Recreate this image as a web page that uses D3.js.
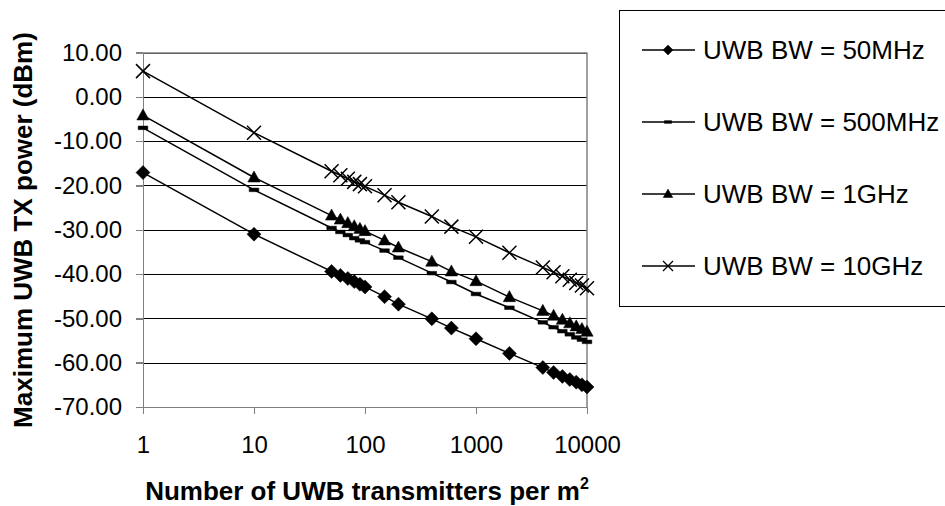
<!DOCTYPE html>
<html>
<head>
<meta charset="utf-8">
<script src="https://cdn.jsdelivr.net/npm/d3@7"></script>
<style>
  body { margin: 0; background: #fff; }
  svg { font-family: "Liberation Sans", Arial, sans-serif; }
  .grid line { stroke: #000; stroke-width: 1; shape-rendering: crispEdges; }
  .grid path { display: none; }
  .axis path, .axis line { stroke: #808080; stroke-width: 1.5; shape-rendering: crispEdges; }
  .axis text { font-size: 24px; fill: #000; }
  .series { fill: none; stroke: #000; stroke-width: 1.5; }
</style>
</head>
<body>
<script>
(function(){

  //number of transmitters per m2 (x values, log axis)
  var density = [1, 10, 50, 60, 70, 80, 90, 100, 150, 200, 400, 600, 1000, 2000, 4000, 5000, 6000, 7000, 8000, 9000, 10000];

  //max tx power (dBm), one array per bandwidth
  var bw50M  = [-17.1, -31.0, -39.4, -40.3, -41.0, -41.7, -42.3, -42.9, -45.1, -46.8, -50.1, -52.2, -54.6, -57.9, -61.1, -62.2, -63.1, -63.8, -64.4, -65.0, -65.5];
  var bw500M = [-7.0, -21.0, -29.6, -30.5, -31.2, -31.9, -32.4, -32.8, -34.7, -36.3, -39.8, -41.8, -44.5, -47.6, -50.9, -52.0, -52.9, -53.6, -54.3, -54.8, -55.3];
  var bw1G   = [-4.2, -18.2, -26.8, -27.7, -28.5, -29.2, -29.8, -30.3, -32.4, -34.0, -37.2, -39.4, -41.6, -45.2, -48.3, -49.4, -50.3, -51.1, -51.8, -52.4, -53.0];
  var bw10G  = [5.8, -8.1, -16.8, -17.7, -18.5, -19.2, -19.7, -20.2, -22.2, -23.8, -27.0, -29.3, -31.6, -35.2, -38.5, -39.6, -40.5, -41.3, -42.0, -42.6, -43.2];

  var seriesNames = ["UWB BW = 50MHz", "UWB BW = 500MHz", "UWB BW = 1GHz", "UWB BW = 10GHz"];
  var markerTypes = ["diamond", "dash", "triangle", "cross"];
  var xTicks = [1, 10, 100, 1000, 10000];
  var yTicks = [10, 0, -10, -20, -30, -40, -50, -60, -70];

  var allSeries = [bw50M, bw500M, bw1G, bw10G];

  var width = 945, height = 506;
  var plotLeft = 143, plotRight = 587, plotTop = 52.5, plotBottom = 407;

  var svg = d3.select("body")
    .append("svg")
    .attr("width", width)
    .attr("height", height);

  var x = d3.scaleLog()
    .domain([1, 10000])
    .range([plotLeft, plotRight]);

  var y = d3.scaleLinear()
    .domain([-70, 10])
    .range([plotBottom, plotTop]);

  //horizontal gridlines
  svg.append("g")
    .attr("class", "grid")
    .attr("transform", "translate(" + plotLeft + ",0)")
    .call(d3.axisLeft(y).tickValues(yTicks).tickSize(-(plotRight - plotLeft)).tickFormat(""));

  //plot frame (top and right edges)
  svg.append("path")
    .attr("d", "M" + plotLeft + "," + Math.round(plotTop) + "H" + plotRight + "V" + plotBottom)
    .attr("fill", "none")
    .attr("stroke", "#808080")
    .attr("stroke-width", 1.5);

  //y axis
  svg.append("g")
    .attr("class", "axis")
    .attr("transform", "translate(" + plotLeft + ",0)")
    .call(d3.axisLeft(y).tickValues(yTicks).tickSize(7).tickSizeOuter(0).tickPadding(14)
      .tickFormat(function(d){ return d.toFixed(2); }));

  //x axis
  svg.append("g")
    .attr("class", "axis")
    .attr("transform", "translate(0," + plotBottom + ")")
    .call(d3.axisBottom(x).tickValues(xTicks).tickSize(7).tickSizeOuter(0).tickPadding(22).tickFormat(d3.format("d")));

  //symbol paths
  function markerPath(type, s){
    if (type == "diamond") return "M0," + (-s) + "L" + s + ",0L0," + s + "L" + (-s) + ",0Z";
    if (type == "triangle") return "M0," + (-s) + "L" + (s * 0.95) + "," + (s * 0.7) + "L" + (-s * 0.95) + "," + (s * 0.7) + "Z";
    if (type == "dash") return "M" + (-s * 0.8) + "," + (-s * 0.3) + "H" + (s * 0.8) + "V" + (s * 0.3) + "H" + (-s * 0.8) + "Z";
    return "M" + (-s) + "," + (-s) + "L" + s + "," + s + "M" + s + "," + (-s) + "L" + (-s) + "," + s;
  }
  var markerSize = { diamond: 7, triangle: 6.5, dash: 6, cross: 7 };

  var line = d3.line()
    .x(function(d){ return x(d[0]); })
    .y(function(d){ return y(d[1]); });

  allSeries.forEach(function(vals, k){
    var pts = density.map(function(d, i){ return [d, vals[i]]; });
    var type = markerTypes[k];

    svg.append("path")
      .datum(pts)
      .attr("class", "series")
      .attr("d", line);

    svg.selectAll(".m" + k)
      .data(pts)
      .enter()
      .append("path")
      .attr("class", "m" + k)
      .attr("transform", function(d){ return "translate(" + x(d[0]) + "," + y(d[1]) + ")"; })
      .attr("d", markerPath(type, markerSize[type]))
      .attr("fill", type == "cross" ? "none" : "#000")
      .attr("stroke", "#000")
      .attr("stroke-width", type == "cross" ? 1.5 : 0.5);
  });

  //axis titles
  svg.append("text")
    .attr("transform", "translate(32,230) rotate(-90)")
    .attr("text-anchor", "middle")
    .style("font-size", "26px")
    .style("font-weight", "bold")
    .text("Maximum UWB TX power (dBm)");

  var xTitle = svg.append("text")
    .attr("x", 367)
    .attr("y", 500)
    .attr("text-anchor", "middle")
    .style("font-size", "26px")
    .style("font-weight", "bold");
  xTitle.append("tspan").text("Number of UWB transmitters per m");
  xTitle.append("tspan")
    .attr("dy", -11)
    .style("font-size", "16px")
    .text("2");

  //legend
  var legend = svg.append("g");
  legend.append("rect")
    .attr("x", 619.5)
    .attr("y", 10.5)
    .attr("width", 340)
    .attr("height", 296)
    .attr("fill", "#fff")
    .attr("stroke", "#000")
    .attr("stroke-width", 1);

  var legendRows = legend.selectAll(".legendRow")
    .data(seriesNames)
    .enter()
    .append("g")
    .attr("class", "legendRow")
    .attr("transform", function(d, i){ return "translate(0," + (50 + i * 72) + ")"; });

  legendRows.append("line")
    .attr("x1", 642).attr("x2", 695)
    .attr("y1", 0).attr("y2", 0)
    .attr("stroke", "#000")
    .attr("stroke-width", 1.5);

  legendRows.append("path")
    .attr("transform", "translate(668,0)")
    .attr("d", function(d, i){ var t = markerTypes[i]; return markerPath(t, t == "dash" ? 4.5 : 5); })
    .attr("fill", function(d, i){ return markerTypes[i] == "cross" ? "none" : "#000"; })
    .attr("stroke", "#000")
    .attr("stroke-width", function(d, i){ return markerTypes[i] == "cross" ? 1.3 : 0.5; });

  legendRows.append("text")
    .attr("x", 703)
    .attr("y", 0)
    .attr("dy", "0.36em")
    .style("font-size", "26px")
    .text(function(d){ return d; });

})();
</script>
</body>
</html>
